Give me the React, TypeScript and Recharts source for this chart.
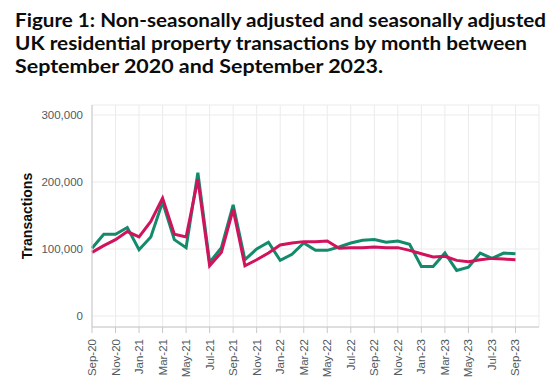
import React from "react";
import { LineChart, Line, XAxis, YAxis, CartesianGrid } from "recharts";

const monthLabels = [
  "Sep-20","Oct-20","Nov-20","Dec-20","Jan-21","Feb-21","Mar-21","Apr-21","May-21","Jun-21",
  "Jul-21","Aug-21","Sep-21","Oct-21","Nov-21","Dec-21","Jan-22","Feb-22","Mar-22","Apr-22",
  "May-22","Jun-22","Jul-22","Aug-22","Sep-22","Oct-22","Nov-22","Dec-22","Jan-23","Feb-23",
  "Mar-23","Apr-23","May-23","Jun-23","Jul-23","Aug-23","Sep-23","Oct-23","Nov-23",
];

const nonSeasonallyAdjusted = [
  101000,122000,122000,132000,99000,118000,170000,114000,102000,214000,
  80000,102000,166000,84000,100000,110000,83000,92000,109000,98000,
  98000,103000,109000,113000,114000,110000,112000,107000,74000,74000,
  94000,68000,73000,94000,86000,94000,93000,
];

const seasonallyAdjusted = [
  95000,105000,114000,126000,118000,141000,176000,122000,118000,204000,
  75000,95000,159000,75000,84000,94000,106000,109000,111000,111000,
  112000,101000,102000,102000,103000,102000,102000,98000,93000,88000,
  89000,83000,81000,84000,86000,85000,84000,
];

const yTicks = [0, 100000, 200000, 300000];
const xTickIndexes = [0,2,4,6,8,10,12,14,16,18,20,22,24,26,28,30,32,34,36];

const titleLines = [
  "Figure 1: Non-seasonally adjusted and seasonally adjusted",
  "UK residential property transactions by month between",
  "September 2020 and September 2023.",
];

const data = monthLabels.map((m, i) => ({
  idx: i,
  month: m,
  nsa: i < nonSeasonallyAdjusted.length ? nonSeasonallyAdjusted[i] : null,
  sa: i < seasonallyAdjusted.length ? seasonallyAdjusted[i] : null,
}));

const XTick = (props: any) => {
  const { x, y, payload } = props;
  const label = monthLabels[payload.value] ?? "";
  return (
    <text
      x={x}
      y={y}
      transform={`rotate(-90, ${x}, ${y})`}
      textAnchor="end"
      dy="0.35em"
      fontSize={11.5}
      fontFamily="'Liberation Sans', Arial, sans-serif"
      fill="#505a5f"
    >
      {label}
    </text>
  );
};

const fmt = (v: number) => v.toLocaleString("en-GB");

export default function App() {
  const titleWidths = [531, 512, 368];
  const titleBaselines = [26.7, 49.5, 72.5];
  return (
    <div style={{ position: "absolute", left: 0, top: 0, width: 550, height: 384, background: "#fff" }}>
      <svg width={550} height={90} style={{ position: "absolute", left: 0, top: 0 }}>
        {titleLines.map((t, i) => (
          <text
            key={i}
            x={15}
            y={titleBaselines[i]}
            fontFamily="Lato, 'Liberation Sans', Arial, sans-serif"
            fontWeight={700}
            fontSize={18.5}
            fill="#0b0c0c"
            textLength={titleWidths[i]}
            lengthAdjust="spacingAndGlyphs"
          >
            {t}
          </text>
        ))}
      </svg>
      <div style={{ position: "absolute", left: 0, top: 0 }}>
        <LineChart
          width={550}
          height={384}
          data={data}
          margin={{ top: 105, right: 11, bottom: 0, left: 0 }}
        >
          <CartesianGrid stroke="#ebebeb" strokeWidth={1} vertical={true} horizontal={true} />
          <XAxis
            dataKey="idx"
            type="number"
            domain={[0, 38]}
            ticks={xTickIndexes}
            tick={<XTick />}
            tickSize={6}
            tickMargin={6}
            height={57}
            interval={0}
            stroke="#c8c8c8"
            axisLine={{ stroke: "#c8c8c8" }}
            tickLine={{ stroke: "#c8c8c8" }}
          />
          <YAxis
            type="number"
            domain={[0, 300000]}
            ticks={yTicks}
            tickFormatter={fmt}
            width={92}
            tickLine={false}
            tickMargin={3}
            padding={{ top: 10, bottom: 11 }}
            axisLine={{ stroke: "#c8c8c8" }}
            tick={{ fontSize: 11.5, fill: "#505a5f", fontFamily: "'Liberation Sans', Arial, sans-serif" }}
            label={{
              value: "Transactions",
              angle: -90,
              position: "insideLeft",
              offset: 0,
              dx: 27,
              style: { fontSize: 14, fontWeight: 700, fill: "#0b0c0c", fontFamily: "'Liberation Sans', Arial, sans-serif", textAnchor: "middle" },
            }}
          />
          <Line
            type="linear"
            dataKey="nsa"
            stroke="#148a6c"
            strokeWidth={3}
            dot={false}
            isAnimationActive={false}
          />
          <Line
            type="linear"
            dataKey="sa"
            stroke="#d1125c"
            strokeWidth={3}
            dot={false}
            isAnimationActive={false}
          />
        </LineChart>
      </div>
    </div>
  );
}
